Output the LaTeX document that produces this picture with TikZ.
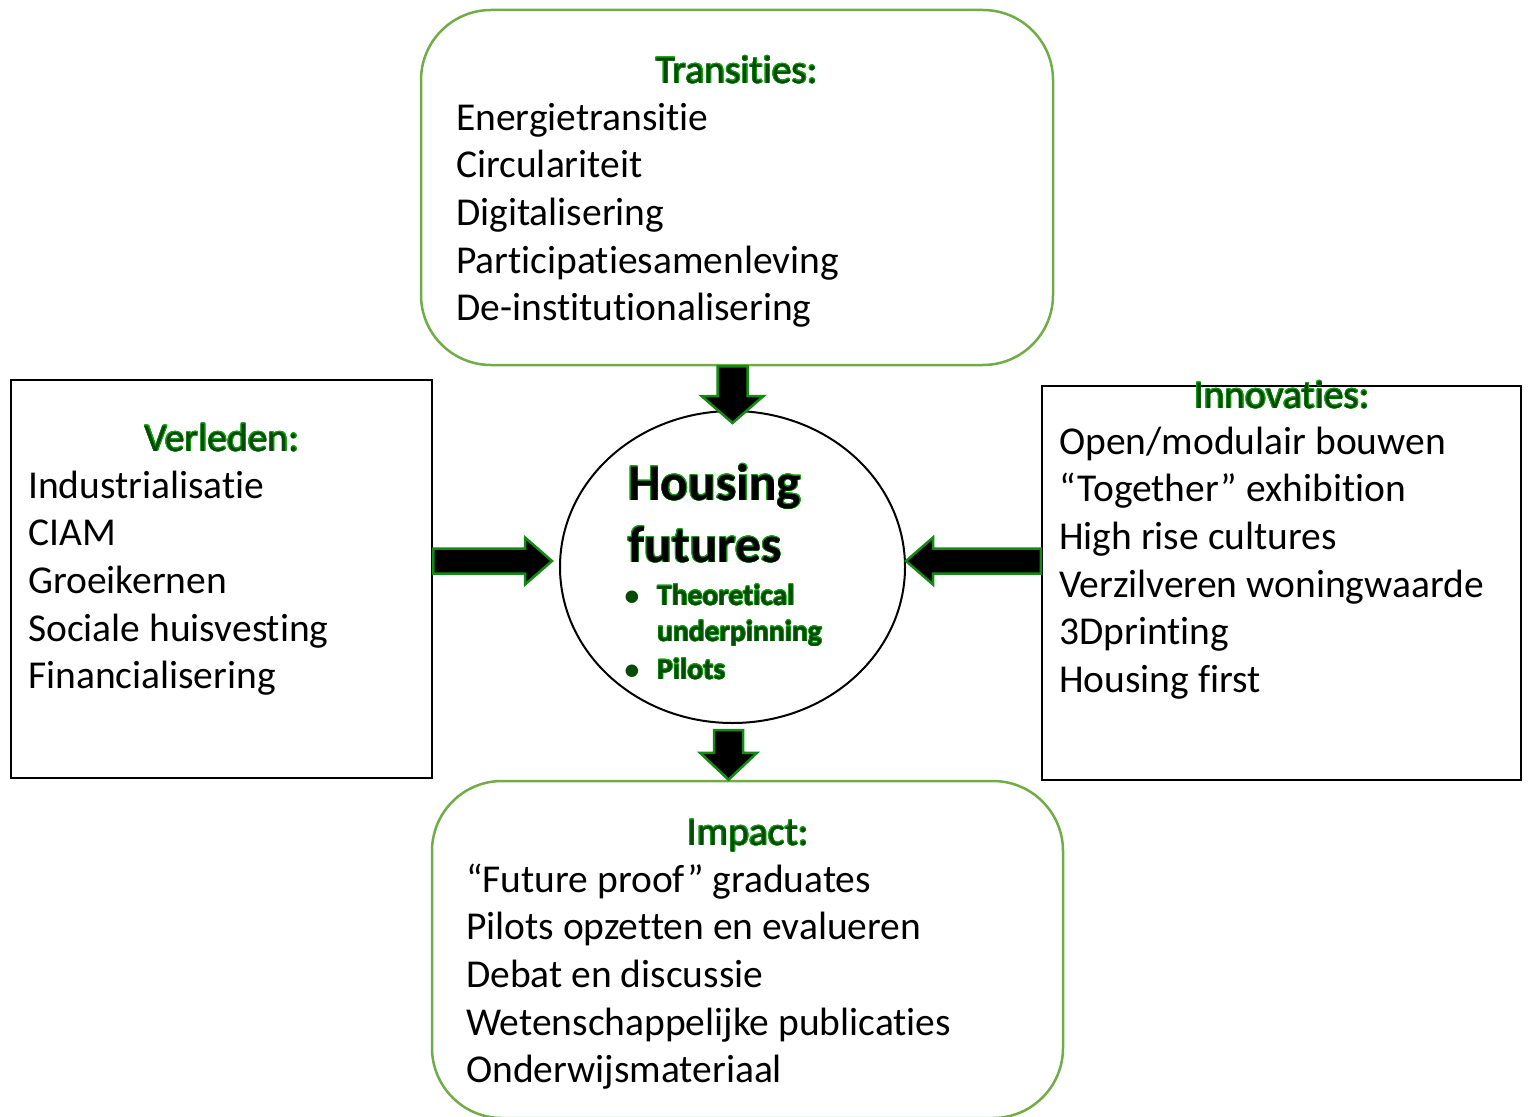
\documentclass[tikz,border=0pt]{standalone}
\usepackage{fontspec}
\setmainfont{Carlito}[Ligatures=NoCommon]
\usepackage{contour}
\usetikzlibrary{shapes.geometric,calc,positioning}

\definecolor{boxgreen}{HTML}{70AD47}
\definecolor{arrowgreen}{HTML}{138A13}
\definecolor{headedge}{HTML}{13A013}
\definecolor{headfill}{HTML}{064A06}
\contourlength{0.6pt}

\tikzset{
  greenbox/.style={draw=boxgreen, line width=2.5pt, rounded corners=70pt, inner sep=0pt},
  blackbox/.style={draw=black, line width=2.5pt, inner sep=0pt},
  hubshape/.style={ellipse, draw=black, line width=2pt, inner sep=0pt},
  heading/.style={font=\fontsize{39.5}{47}\selectfont, text=headfill, anchor=base},
  item/.style={font=\fontsize{39.5}{47}\selectfont, anchor=base west, inner sep=0pt},
  hubtitle/.style={font=\bfseries\fontsize{51.5}{62}\selectfont, anchor=base west, inner sep=0pt},
  hubitem/.style={font=\bfseries\fontsize{29.5}{37}\selectfont, text=headfill, anchor=base west, inner sep=0pt},
  fatarrow/.style={fill=black, draw=arrowgreen, line width=2.5pt, line join=miter}
}

% block arrow: from, tip, angle, shaft half width, head half width
\newcommand{\fatarrow}[5]{%
  \path (#1) coordinate (fa-from) (#2) coordinate (fa-to);
  \begin{scope}[shift={(fa-from)}, rotate=#3]
    \draw[fatarrow] let \p1=($(fa-to)-(fa-from)$), \n1={veclen(\x1,\y1)} in
      (0,-#4) -- ({\n1-27},-#4) -- ({\n1-27},-#5) -- (\n1,0)
      -- ({\n1-27},#5) -- ({\n1-27},#4) -- (0,#4) -- cycle;
  \end{scope}}

\begin{document}
\begin{tikzpicture}[x=1pt, y=-1pt]
  \useasboundingbox (0,0) rectangle (1528,1116);

  % Transities
  \node[greenbox, minimum width=632pt, minimum height=355pt] (trans) at (737,187.5) {};
  \node[heading] (trans-head) at (737,83) {\contour{headedge}{Transities:}};
  \foreach \t [count=\i] in {Energietransitie, Circulariteit, Digitalisering,
      Participatiesamenleving, De-institutionalisering}
    \node[item] (trans-\i) at (456,{130+47.7*(\i-1)}) {\t};

  % Verleden
  \node[blackbox, minimum width=421pt, minimum height=398pt] (past) at (221.5,579) {};
  \node[heading] (past-head) at (222,451) {\contour{headedge}{Verleden:}};
  \foreach \t [count=\i] in {Industrialisatie, CIAM, Groeikernen,
      Sociale huisvesting, Financialisering}
    \node[item] (past-\i) at (28,{498+47.7*(\i-1)}) {\t};

  % Innovaties
  \node[blackbox, minimum width=479pt, minimum height=394pt] (innov) at (1281.5,583) {};
  \node[heading] (innov-head) at (1282,408) {\contour{headedge}{Innovaties:}};
  \foreach \t [count=\i] in {Open/modulair bouwen, “Together” exhibition,
      High rise cultures, Verzilveren woningwaarde, 3Dprinting, Housing first}
    \node[item] (innov-\i) at (1059,{454+47.7*(\i-1)}) {\t};

  % Impact
  \node[greenbox, minimum width=631pt, minimum height=337pt] (impact) at (747.5,949.5) {};
  \node[heading] (impact-head) at (748,845) {\contour{headedge}{Impact:}};
  \foreach \t [count=\i] in {“Future proof” graduates, Pilots opzetten en evalueren,
      Debat en discussie, Wetenschappelijke publicaties, Onderwijsmateriaal}
    \node[item] (impact-\i) at (466,{892+47.7*(\i-1)}) {\t};

  % Housing futures
  \node[hubshape, minimum width=345pt, minimum height=312pt] (hub) at (732.5,567) {};
  \node[hubtitle] (hub-1) at (628,500) {\contour{headedge}{Housing}};
  \node[hubtitle] (hub-2) at (628,562) {\contour{headedge}{futures}};
  \node[hubitem, anchor=base] (hub-b1) at (632,605) {\textbullet};
  \node[hubitem] (hub-3) at (657,605) {\contour{headedge}{Theoretical}};
  \node[hubitem] (hub-4) at (657,641) {\contour{headedge}{underpinning}};
  \node[hubitem, anchor=base] (hub-b2) at (632,679) {\textbullet};
  \node[hubitem] (hub-5) at (657,679) {\contour{headedge}{Pilots}};

  % arrows
  \fatarrow{hub.north |- trans.south}{$(hub.north)+(-1,13)$}{-90}{15}{31}
  \fatarrow{$(past.east |- hub.west)+(0,-6)$}{$(hub.west)+(-7,-6)$}{0}{12.5}{23.5}
  \fatarrow{$(innov.west |- hub.east)+(0,-6)$}{$(hub.east)+(0,-6)$}{180}{12.5}{23.5}
  \fatarrow{$(hub.south)+(-4,6)$}{$(impact.north)+(-19.5,0)$}{-90}{14.5}{28.5}
\end{tikzpicture}
\end{document}
